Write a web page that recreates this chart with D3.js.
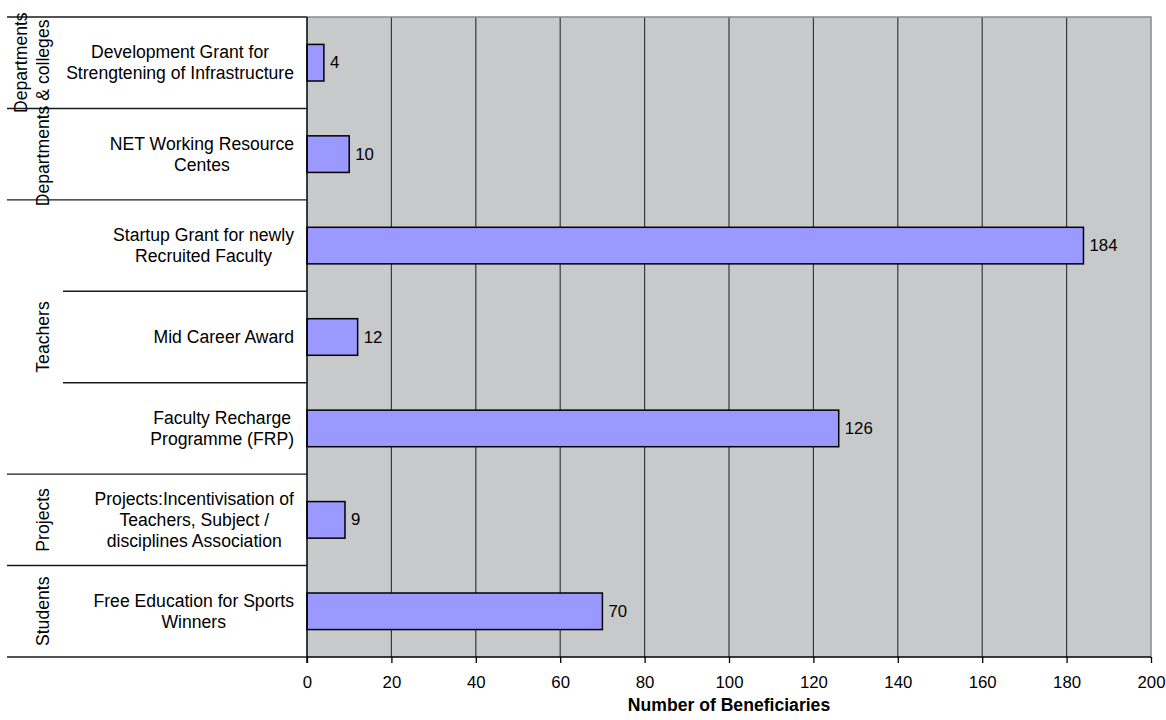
<!DOCTYPE html>
<html>
<head>
<meta charset="utf-8">
<script src="https://cdn.jsdelivr.net/npm/d3@7"></script>
<style>
  html, body { margin: 0; padding: 0; background: #ffffff; }
  svg { display: block; font-family: "Liberation Sans", Arial, sans-serif; }
</style>
</head>
<body>
<svg id="chart" width="1166" height="720"></svg>
<script>
// ---- data ----
const categoryLines = [
  ["Development Grant for", "Strengtening of Infrastructure"],
  ["NET Working Resource", "Centes"],
  ["Startup Grant for newly", "Recruited Faculty"],
  ["Mid Career Award"],
  ["Faculty Recharge", "Programme (FRP)"],
  ["Projects:Incentivisation of", "Teachers, Subject /", "disciplines Association"],
  ["Free Education for Sports", "Winners"]
];
const categories = categoryLines.map(l => l.join(" "));
const values = [4, 10, 184, 12, 126, 9, 70];
const groupNames = ["Departments", "Departments & colleges", "Teachers", "Projects", "Students"];
const groupFirst = [0, 1, 2, 5, 6];
const groupLast = [0, 1, 4, 5, 6];
const groupLabelFrom = [0, 0, 2, 5, 6];
const xTicks = [0, 20, 40, 60, 80, 100, 120, 140, 160, 180, 200];
const xTitle = "Number of Beneficiaries";

// ---- layout ----
const svg = d3.select("#chart");
const plotL = 307, plotR = 1151, plotT = 17, plotB = 657;
const x = d3.scaleLinear().domain([0, 200]).range([plotL, plotR]);
const y = d3.scaleBand().domain(d3.range(categories.length)).range([plotT, plotB])
  .paddingInner(0.6).paddingOuter(0.3);
const step = y.step();
const bandTop = i => plotT + i * step;
const catFont = 17.6;

// plot background
svg.append("rect").attr("x", plotL).attr("y", plotT)
  .attr("width", plotR - plotL).attr("height", plotB - plotT)
  .attr("fill", "#c8c9cb");

// gridlines
svg.append("g").selectAll("line").data(xTicks.filter(t => t > 0 && t < 200)).join("line")
  .attr("x1", d => x(d)).attr("x2", d => x(d))
  .attr("y1", plotT).attr("y2", plotB)
  .attr("stroke", "#3a3a3a").attr("stroke-width", 1.2);

// plot border (top & right, gray)
svg.append("path")
  .attr("d", `M${plotL},${plotT}H${plotR}V${plotB}`)
  .attr("fill", "none").attr("stroke", "#8a8a8a").attr("stroke-width", 1.5);

// bars
svg.append("g").selectAll("rect").data(values).join("rect")
  .attr("x", x(0)).attr("y", (d, i) => y(i))
  .attr("width", d => x(d) - x(0)).attr("height", y.bandwidth())
  .attr("fill", "#9999ff").attr("stroke", "#000").attr("stroke-width", 1.5);

// data labels
svg.append("g").selectAll("text").data(values).join("text")
  .attr("x", d => x(d) + 6).attr("y", (d, i) => y(i) + y.bandwidth() / 2)
  .attr("dominant-baseline", "central")
  .attr("font-size", 16.8).attr("fill", "#000")
  .text(d => d);

// x axis
const xAxis = d3.axisBottom(x).tickValues(xTicks).tickSize(6).tickPadding(13).tickFormat(d3.format("d"));
const gx = svg.append("g").attr("transform", `translate(0,${plotB})`).call(xAxis);
gx.select(".domain").remove();
gx.selectAll(".tick line").attr("stroke", "#000").attr("stroke-width", 1.3);
gx.selectAll(".tick text").attr("font-size", 16.8).attr("fill", "#000")
  .attr("font-family", "Liberation Sans, Arial, sans-serif");

// left axis line + separators
svg.append("line").attr("x1", plotL).attr("x2", plotL).attr("y1", plotT).attr("y2", plotB + 6)
  .attr("stroke", "#000").attr("stroke-width", 1.5);
const boundaries = d3.range(categories.length + 1);
const outerSet = new Set([...groupFirst, categories.length]);
svg.append("g").selectAll("line").data(boundaries).join("line")
  .attr("x1", d => outerSet.has(d) ? 7 : 63).attr("x2", plotL)
  .attr("y1", d => bandTop(d)).attr("y2", d => bandTop(d))
  .attr("stroke", "#1a1a1a").attr("stroke-width", 1.4);
svg.append("line").attr("x1", plotL).attr("x2", plotR).attr("y1", plotB).attr("y2", plotB)
  .attr("stroke", "#000").attr("stroke-width", 1.5);

// category labels
const lineH = 20.8;
const catG = svg.append("g");
categoryLines.forEach((lines, i) => {
  const cy = y(i) + y.bandwidth() / 2;
  const texts = lines.map((t, k) => catG.append("text")
    .attr("y", cy + (k - (lines.length - 1) / 2) * lineH)
    .attr("dominant-baseline", "central")
    .attr("text-anchor", "middle")
    .attr("font-size", catFont).attr("fill", "#000")
    .text(t));
  const maxW = d3.max(texts, t => t.node().getComputedTextLength());
  texts.forEach(t => t.attr("x", 294 - maxW / 2));
});

// group labels (rotated)
groupNames.forEach((g, i) => {
  const cy = (bandTop(groupLabelFrom[i]) + bandTop(groupLast[i] + 1)) / 2 + (i === 1 ? 4.5 : 0);
  const cx = i === 0 ? 21 : 43;
  svg.append("text")
    .attr("transform", `translate(${cx},${cy}) rotate(-90)`)
    .attr("text-anchor", "middle").attr("dominant-baseline", "central")
    .attr("font-size", catFont).attr("fill", "#000")
    .text(g);
});

// axis title
svg.append("text").attr("x", (plotL + plotR) / 2).attr("y", 711)
  .attr("text-anchor", "middle").attr("font-weight", "bold")
  .attr("font-size", catFont).attr("fill", "#000")
  .text(xTitle);
</script>
</body>
</html>
